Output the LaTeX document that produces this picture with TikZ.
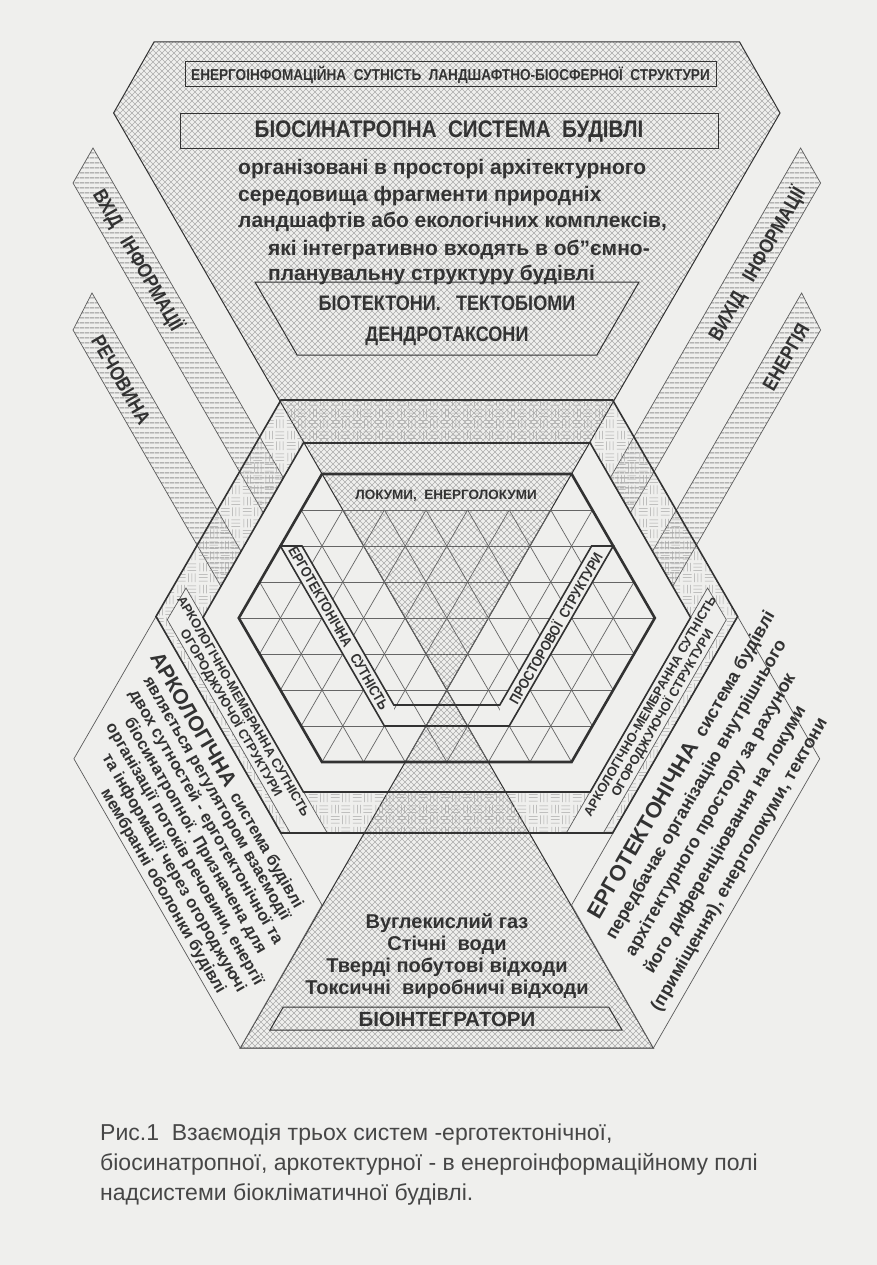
\documentclass[tikz,border=0pt]{standalone}
\usepackage{fontspec}
\setmainfont{Liberation Sans}
\newfontfamily\condfont{Liberation Sans}[FakeStretch=0.86]
\usetikzlibrary{patterns}
\definecolor{paper}{RGB}{239,239,237}
\definecolor{ink}{RGB}{50,50,50}
\newcommand\fsz[1]{\fontsize{#1}{#1}\selectfont}

\pgfdeclarepatternformonly{xmesh}{\pgfqpoint{-0.5pt}{-0.5pt}}{\pgfqpoint{6.5pt}{6.5pt}}{\pgfqpoint{6pt}{6pt}}{%
  \pgfsetlinewidth{0.4pt}%
  \pgfpathmoveto{\pgfqpoint{0pt}{0pt}}\pgfpathlineto{\pgfqpoint{6pt}{6pt}}%
  \pgfpathmoveto{\pgfqpoint{0pt}{6pt}}\pgfpathlineto{\pgfqpoint{6pt}{0pt}}%
  \pgfusepath{stroke}}
\pgfdeclarepatternformonly{hstripes}{\pgfqpoint{0pt}{0pt}}{\pgfqpoint{5pt}{5pt}}{\pgfqpoint{5pt}{5pt}}{%
  \pgfsetlinewidth{1.4pt}%
  \pgfpathmoveto{\pgfqpoint{-0.1pt}{2.5pt}}\pgfpathlineto{\pgfqpoint{5.1pt}{2.5pt}}%
  \pgfusepath{stroke}}
\pgfdeclarepatternformonly{weave}{\pgfqpoint{0pt}{0pt}}{\pgfqpoint{22pt}{22pt}}{\pgfqpoint{22pt}{22pt}}{%
  \pgfsetlinewidth{0.5pt}%
  \pgfpathmoveto{\pgfqpoint{1pt}{2pt}}\pgfpathlineto{\pgfqpoint{10pt}{2pt}}%
  \pgfpathmoveto{\pgfqpoint{1pt}{5.5pt}}\pgfpathlineto{\pgfqpoint{10pt}{5.5pt}}%
  \pgfpathmoveto{\pgfqpoint{1pt}{9pt}}\pgfpathlineto{\pgfqpoint{10pt}{9pt}}%
  \pgfpathmoveto{\pgfqpoint{13pt}{1pt}}\pgfpathlineto{\pgfqpoint{13pt}{10pt}}%
  \pgfpathmoveto{\pgfqpoint{16.5pt}{1pt}}\pgfpathlineto{\pgfqpoint{16.5pt}{10pt}}%
  \pgfpathmoveto{\pgfqpoint{20pt}{1pt}}\pgfpathlineto{\pgfqpoint{20pt}{10pt}}%
  \pgfpathmoveto{\pgfqpoint{2pt}{12pt}}\pgfpathlineto{\pgfqpoint{2pt}{21pt}}%
  \pgfpathmoveto{\pgfqpoint{5.5pt}{12pt}}\pgfpathlineto{\pgfqpoint{5.5pt}{21pt}}%
  \pgfpathmoveto{\pgfqpoint{9pt}{12pt}}\pgfpathlineto{\pgfqpoint{9pt}{21pt}}%
  \pgfpathmoveto{\pgfqpoint{12pt}{13pt}}\pgfpathlineto{\pgfqpoint{21pt}{13pt}}%
  \pgfpathmoveto{\pgfqpoint{12pt}{16.5pt}}\pgfpathlineto{\pgfqpoint{21pt}{16.5pt}}%
  \pgfpathmoveto{\pgfqpoint{12pt}{20pt}}\pgfpathlineto{\pgfqpoint{21pt}{20pt}}%
  \pgfusepath{stroke}}

\tikzset{
  outline/.style    = {draw=ink, line width=1pt, line join=miter},
  thinline/.style   = {draw=ink!80, line width=0.7pt},
  hexline/.style    = {draw=ink, line width=1.6pt},
  thickhex/.style   = {draw=ink, line width=2.6pt},
  gridline/.style   = {draw=ink!75, line width=0.7pt},
  meshfill/.style   = {pattern=xmesh, pattern color=gray!65},
  stripefill/.style = {pattern=hstripes, pattern color=gray!85},
  weavefill/.style  = {pattern=weave, pattern color=gray!70},
  caps/.style       = {font=\condfont\bfseries, text=ink, inner sep=0pt},
  bodytext/.style   = {font=\bfseries, text=ink, inner sep=0pt},
}

\begin{document}
\begin{tikzpicture}[x=1pt,y=-1pt]
\useasboundingbox (0,0) rectangle (877,1265);
\fill[paper] (0,0) rectangle (877,1265);

\coordinate (apex) at (446.8,690);
\path[meshfill] (154,42) -- (739.6,42) -- (780,113) -- (apex) -- (113.6,113) -- cycle;
\draw[outline] (154,42) -- (739.6,42) -- (780,113) -- (apex) -- (113.6,113) -- cycle;
\path[meshfill] (240.2,1048) -- (653.4,1048) -- (apex) -- cycle;
\draw[outline] (240.2,1048) -- (653.4,1048) -- (apex) -- cycle;

\draw[thinline,stripefill] (93,148) -- (283.5,478.1) -- (263.3,512.9) -- (73,183) -- cycle;
\draw[thinline,stripefill] (92,293) -- (241.1,551.4) -- (220.9,586.3) -- (73,330) -- cycle;
\draw[thinline,stripefill] (800.6,148) -- (610.1,478.1) -- (630.3,512.9) -- (820.6,183) -- cycle;
\draw[thinline,stripefill] (801.6,293) -- (652.5,551.4) -- (672.7,586.3) -- (820.6,330) -- cycle;

\draw[thinline,fill=paper] (156,616.5) -- (322,905) -- (240.2,1048) -- (73.9,758.8) -- cycle;
\draw[thinline,fill=paper] (737.6,616.5) -- (571.6,905) -- (653.4,1048) -- (819.7,758.8) -- cycle;

\path[weavefill,even odd rule]
  (281,400) -- (612.6,400) -- (737.6,616.5) -- (612.6,833) -- (281,833) -- (156,616.5) -- cycle
  (303.4,443) -- (590.2,443) -- (690.6,617.5) -- (590.2,792) -- (303.4,792) -- (203,617.5) -- cycle;
\draw[thinline,fill=paper] (186,588) -- (327.3,833) -- (290.3,833) -- (167.3,619.7) -- cycle;
\draw[thinline,fill=paper] (707.6,588) -- (566.3,833) -- (603.3,833) -- (726.3,619.7) -- cycle;
\draw[hexline] (281,400) -- (612.6,400) -- (737.6,616.5) -- (612.6,833) -- (281,833) -- (156,616.5) -- cycle;
\draw[hexline] (303.4,443) -- (590.2,443) -- (690.6,617.5) -- (590.2,792) -- (303.4,792) -- (203,617.5) -- cycle;

\begin{scope}
  \clip (301.2,510) -- (592.4,510) -- (654.8,618) -- (571.6,762) -- (322,762) -- (238.8,618) -- cycle;
  \foreach \r in {0,...,7}
    \draw[gridline] (230,510+36*\r) -- (665,510+36*\r);
  \foreach \j in {-6,...,12} {
    \draw[gridline] (322+41.6*\j,474) -- (488.4+41.6*\j,762);
    \draw[gridline] (322+41.6*\j,474) -- (155.6+41.6*\j,762);
  }
\end{scope}

\fill[paper] (280.4,546) -- (302,546) -- (393.8,705) -- (393.8,726) -- (384.4,726) -- cycle;
\fill[paper] (613.2,546) -- (591.6,546) -- (499.8,705) -- (499.8,726) -- (509.2,726) -- cycle;
\draw[hexline] (280.4,546) -- (384.4,726) -- (509.2,726) -- (613.2,546) -- (591.6,546)
  -- (499.8,705) -- (393.8,705) -- (302,546) -- cycle;
\draw[thickhex] (322,474) -- (571.6,474) -- (654.8,618) -- (571.6,762) -- (322,762) -- (238.8,618) -- cycle;

\draw[outline] (185,62) rectangle (716,87);
\draw[outline] (180,114) rectangle (718,149);
\draw[outline] (255,282) -- (639,282) -- (596.9,355) -- (297.1,355) -- cycle;
\draw[outline] (270,1030) -- (622,1030) -- (608.7,1007) -- (283.3,1007) -- cycle;

\node[caps,font=\condfont\bfseries\fsz{15.8}] (enbox) at (450.5,74.5) {ЕНЕРГОІНФОМАЦІЙНА\ \ СУТНІСТЬ\ \ ЛАНДШАФТНО-БІОСФЕРНОЇ\ \ СТРУКТУРИ};
\node[caps,font=\condfont\bfseries\fsz{24}] (biosys) at (449,131.5) {БІОСИНАТРОПНА\ \ СИСТЕМА\ \ БУДІВЛІ};
\node[bodytext,font=\bfseries\fsz{21},anchor=base west] (par1) at (238,175) {організовані в просторі архітектурного};
\node[bodytext,font=\bfseries\fsz{21},anchor=base west] (par2) at (238,202) {середовища фрагменти природніх};
\node[bodytext,font=\bfseries\fsz{21},anchor=base west] (par3) at (238,228) {ландшафтів або екологічних комплексів,};
\node[bodytext,font=\bfseries\fsz{21},anchor=base west] (par4) at (268,255) {які інтегративно входять в об\symbol{34}ємно-};
\node[bodytext,font=\bfseries\fsz{21},anchor=base west] (par5) at (268,280) {планувальну структуру будівлі};
\node[caps,font=\condfont\bfseries\fsz{21}] (biotect) at (447,303) {БІОТЕКТОНИ.\ \ \ ТЕКТОБІОМИ};
\node[caps,font=\condfont\bfseries\fsz{21}] (dendro) at (447,336) {ДЕНДРОТАКСОНИ};

\node[caps,font=\condfont\bfseries\fsz{20},rotate=-60] (inlet) at (138,260) {ВХІД\ \ \ ІНФОРМАЦІЇ};
\node[caps,font=\condfont\bfseries\fsz{20},rotate=-60] (subst) at (121,380) {РЕЧОВИНА};
\node[caps,font=\condfont\bfseries\fsz{20},rotate=60] (outlet) at (757,264) {ВИХІД\ \ \ ІНФОРМАЦІЇ};
\node[caps,font=\condfont\bfseries\fsz{20},rotate=60] (energy) at (786,357) {ЕНЕРГІЯ};

\node[bodytext,font=\bfseries\fsz{13.5}] (locum) at (446,496) {ЛОКУМИ,\ \ ЕНЕРГОЛОКУМИ};
\node[caps,font=\condfont\bfseries\fsz{14.5},rotate=-60] (ergoarm) at (338.5,628) {ЕРГОТЕКТОНІЧНА\ \ \ СУТНІСТЬ};
\node[caps,font=\condfont\bfseries\fsz{14.5},rotate=60] (spacearm) at (555.1,628) {ПРОСТОРОВОЇ\ \ СТРУКТУРИ};

\node[bodytext,font=\bfseries\fontsize{13}{14}\selectfont,align=center,rotate=-60] (memleft) at (236.5,710)
  {АРКОЛОГІЧНО-МЕМБРАННА СУТНІСТЬ\\ОГОРОДЖУЮЧОЇ СТРУКТУРИ};
\node[bodytext,font=\bfseries\fontsize{13}{14}\selectfont,align=center,rotate=60] (memright) at (657.1,710)
  {АРКОЛОГІЧНО-МЕМБРАННА СУТНІСТЬ\\ОГОРОДЖУЮЧОЇ СТРУКТУРИ};

\foreach \txt [count=\k] in {{{\fsz{21}АРКОЛОГІЧНА}\ \ система будівлі},
  {являється регулятором взаємодії},
  {двох сутностей - ерготектонічної та},
  {біосинатропної. Призначена для},
  {організації потоків речовини, енергії},
  {та інформації через огороджуючі},
  {мембранні оболонки будівлі}}
  \node[bodytext,font=\bfseries\fsz{16.5},rotate=-60] (lp\k) at ({195-10.7*(\k-4)},{836+18.5*(\k-4)}) {\txt};

\foreach \txt [count=\k] in {{{\fsz{22}ЕРГОТЕКТОНІЧНА}\ \ система будівлі},
  {передбачає організацію внутрішнього},
  {архітектурного простору за рахунок},
  {його диференціювання на локуми},
  {(приміщення), енерголокуми, тектони}}
  \node[bodytext,font=\bfseries\fsz{18},rotate=60] (rp\k) at ({711+14.4*(\k-3)},{815+25*(\k-3)}) {\txt};

\node[bodytext,font=\bfseries\fsz{20}] (waste1) at (447,923) {Вуглекислий газ};
\node[bodytext,font=\bfseries\fsz{20}] (waste2) at (447,945) {Стічні\ \ води};
\node[bodytext,font=\bfseries\fsz{20}] (waste3) at (447,967) {Тверді побутові відходи};
\node[bodytext,font=\bfseries\fsz{20}] (waste4) at (447,989) {Токсичні\ \ виробничі відходи};
\node[bodytext,font=\bfseries\fsz{20.5}] (integr) at (447,1019) {БІОІНТЕГРАТОРИ};

\node[inner sep=0pt,anchor=base west,text=ink!90,font=\fsz{23}] (cap1) at (100,1140) {Рис.1\ \ Взаємодія трьох систем -ерготектонічної,};
\node[inner sep=0pt,anchor=base west,text=ink!90,font=\fsz{23}] (cap2) at (100,1170) {біосинатропної, аркотектурної - в енергоінформаційному полі};
\node[inner sep=0pt,anchor=base west,text=ink!90,font=\fsz{23}] (cap3) at (100,1200) {надсистеми біокліматичної будівлі.};
\end{tikzpicture}
\end{document}
